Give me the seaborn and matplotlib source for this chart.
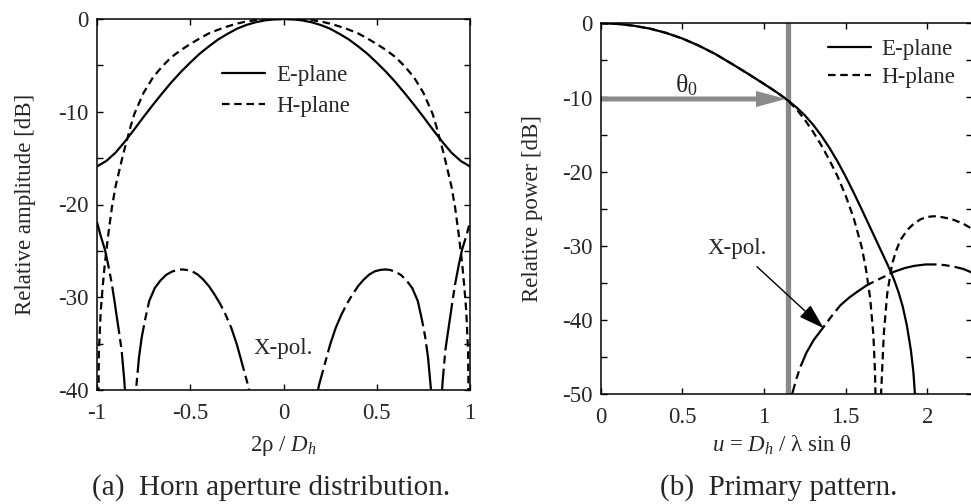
import numpy as np
import pandas as pd
import matplotlib
matplotlib.use("Agg")
import matplotlib.pyplot as plt
from matplotlib.lines import Line2D
import seaborn as sns

# ---------------- data: (a) horn aperture distribution ----------------
a_e_x = [-1.0, -0.95, -0.9, -0.85, -0.8, -0.75, -0.7, -0.65, -0.6, -0.55, -0.5, -0.45, -0.4, -0.35, -0.3,
         -0.25, -0.2, -0.15, -0.1, -0.05, 0.0, 0.05, 0.1, 0.15, 0.2, 0.25, 0.3, 0.35, 0.4, 0.45, 0.5,
         0.55, 0.6, 0.65, 0.7, 0.75, 0.8, 0.85, 0.9, 0.95, 1.0]
a_e_db = [-15.9, -15.3, -14.4, -13.2, -11.9, -10.55, -9.25, -8.0, -6.8, -5.7, -4.7, -3.75, -2.95, -2.2, -1.6,
          -1.05, -0.65, -0.35, -0.15, -0.04, 0.0, -0.04, -0.15, -0.35, -0.65, -1.05, -1.6, -2.2, -2.95, -3.75, -4.7,
          -5.7, -6.8, -8.0, -9.25, -10.55, -11.9, -13.2, -14.4, -15.3, -15.9]

a_h_x = [-1.0, -0.99, -0.98, -0.97, -0.96, -0.95, -0.94, -0.92, -0.9, -0.88, -0.86, -0.84, -0.82, -0.8,
         -0.75, -0.7, -0.65, -0.6, -0.55, -0.5, -0.45, -0.4, -0.35, -0.3, -0.25, -0.2, -0.15, -0.1, -0.05,
         0.0, 0.05, 0.1, 0.15, 0.2, 0.25, 0.3, 0.35, 0.4, 0.45, 0.5, 0.55, 0.6, 0.65, 0.7, 0.75,
         0.8, 0.82, 0.84, 0.86, 0.88, 0.9, 0.92, 0.94, 0.95, 0.96, 0.97, 0.98, 0.99, 1.0]
a_h_db = [-60.0, -36.0, -31.5, -29.0, -26.8, -25.0, -23.3, -20.3, -18.0, -16.3, -14.6, -13.1, -11.6, -10.25,
          -7.95, -6.3, -5.1, -4.1, -3.35, -2.7, -2.1, -1.55, -1.15, -0.8, -0.5, -0.27, -0.12, -0.05, -0.01,
          0.0, -0.01, -0.05, -0.12, -0.27, -0.5, -0.8, -1.15, -1.55, -2.1, -2.7, -3.35, -4.1, -5.1, -6.3, -7.95,
          -10.25, -11.6, -13.1, -14.6, -16.3, -18.0, -20.3, -23.3, -25.0, -26.8, -29.0, -31.5, -36.0, -60.0]

# cross-polar components (one list per lobe)
a_x1_x = [-1.0, -0.98, -0.957, -0.94, -0.921, -0.907, -0.894, -0.88, -0.868, -0.854, -0.845, -0.835]
a_x1_db = [-21.9, -23.4, -24.9, -26.5, -28.5, -30.3, -32.1, -34.0, -35.7, -38.9, -41.5, -50.0]
a_x2_x = [-0.83, -0.79, -0.775, -0.76, -0.743, -0.72, -0.69, -0.66, -0.63, -0.6, -0.57, -0.545, -0.52,
          -0.49, -0.46, -0.43, -0.4, -0.37, -0.34, -0.31, -0.28, -0.25, -0.22, -0.19, -0.16, -0.13]
a_x2_db = [-55.0, -39.8, -36.5, -34.3, -32.5, -30.4, -29.0, -28.2, -27.6, -27.25, -27.05, -27.0, -27.05,
           -27.2, -27.55, -28.1, -28.8, -29.7, -30.7, -31.9, -33.3, -35.1, -37.3, -39.5, -42.5, -50.0]
a_x3_x = [0.13, 0.16, 0.19, 0.22, 0.25, 0.28, 0.31, 0.34, 0.37, 0.4, 0.43, 0.46, 0.49, 0.52, 0.545,
          0.57, 0.6, 0.63, 0.66, 0.69, 0.72, 0.743, 0.76, 0.775, 0.79, 0.83]
a_x3_db = [-50.0, -42.5, -39.5, -37.3, -35.1, -33.3, -31.9, -30.7, -29.7, -28.8, -28.1, -27.55, -27.2,
           -27.05, -27.0, -27.05, -27.25, -27.6, -28.2, -29.0, -30.4, -32.5, -34.3, -36.5, -39.8, -55.0]
a_x4_x = [0.835, 0.845, 0.854, 0.868, 0.88, 0.894, 0.907, 0.921, 0.94, 0.957, 0.98, 1.0]
a_x4_db = [-50.0, -41.5, -38.9, -35.7, -34.0, -32.1, -30.3, -28.5, -26.5, -24.9, -23.4, -21.9]

# ---------------- data: (b) primary pattern ----------------
b_e_u = [0.0, 0.1, 0.2, 0.3, 0.4, 0.5, 0.6, 0.7, 0.8, 0.9, 1.0, 1.05, 1.1, 1.15, 1.2, 1.25, 1.3, 1.35,
         1.4, 1.45, 1.5, 1.55, 1.6, 1.65, 1.7, 1.725, 1.75, 1.775, 1.8, 1.825, 1.85, 1.875, 1.9, 1.915,
         1.925, 1.94]
b_e_db = [0.0, -0.08, -0.32, -0.71, -1.29, -2.05, -3.0, -4.12, -5.42, -6.77, -8.17, -8.89, -9.64, -10.45,
          -11.35, -12.4, -13.65, -15.1, -16.75, -18.6, -20.65, -22.85, -25.15, -27.5, -29.85, -31.03,
          -32.2, -33.4, -34.75, -36.3, -38.2, -40.7, -44.1, -47.0, -50.1, -58.0]
b_h_u = [0.0, 0.1, 0.2, 0.3, 0.4, 0.5, 0.6, 0.7, 0.8, 0.9, 1.0, 1.05, 1.1, 1.15, 1.2, 1.25, 1.3, 1.35,
         1.4, 1.45, 1.5, 1.55, 1.6, 1.625, 1.65, 1.67, 1.68, 1.69, 1.698, 1.706, 1.718, 1.734, 1.755,
         1.785, 1.81, 1.836, 1.88, 1.918, 1.96, 2.0, 2.04, 2.082, 2.12, 2.163, 2.22, 2.274]
b_h_db = [0.0, -0.08, -0.32, -0.71, -1.29, -2.05, -3.0, -4.12, -5.42, -6.77, -8.17, -8.89, -9.64, -10.5,
          -11.6, -13.0, -14.6, -16.4, -18.4, -20.6, -23.2, -26.3, -30.3, -33.2, -37.0, -42.0, -47.0,
          -58.0, -62.0, -58.0, -49.5, -41.8, -36.4, -32.4, -30.6, -29.2, -27.8, -27.0, -26.4, -26.1,
          -26.0, -26.1, -26.25, -26.5, -27.0, -27.7]
b_x_u = [1.16, 1.172, 1.2, 1.223, 1.26, 1.304, 1.366, 1.42, 1.468, 1.52, 1.57, 1.63, 1.693, 1.75,
         1.795, 1.86, 1.918, 1.99, 2.061, 2.11, 2.163, 2.22, 2.274]
b_x_db = [-55.0, -50.0, -47.8, -46.3, -44.4, -42.7, -40.9, -39.3, -38.0, -37.0, -36.2, -35.3, -34.6,
          -34.0, -33.5, -33.0, -32.7, -32.5, -32.5, -32.6, -32.8, -33.1, -33.6]

theta0_u = 1.145
theta0_db = -10.2

a_xticks = [-1, -0.5, 0, 0.5, 1]
a_xticklabels = ["-1", "-0.5", "0", "0.5", "1"]
a_yticks = [-40, -30, -20, -10, 0]
a_yticklabels = ["-40", "-30", "-20", "-10", "0"]
b_xticks = [0, 0.5, 1, 1.5, 2]
b_xticklabels = ["0", "0.5", "1", "1.5", "2"]
b_yticks = [-50, -40, -30, -20, -10, 0]
b_yticklabels = ["-50", "-40", "-30", "-20", "-10", "0"]

# ---------------- style ----------------
sns.set_style("ticks")
plt.rcParams["font.family"] = ["Liberation Serif", "DejaVu Serif"]
plt.rcParams["mathtext.fontset"] = "custom"
plt.rcParams["mathtext.rm"] = "Liberation Serif"
plt.rcParams["mathtext.it"] = "Liberation Serif:italic"
plt.rcParams["mathtext.bf"] = "Liberation Serif:bold"
plt.rcParams["axes.unicode_minus"] = False

FS = 16.5
LW = 1.6
DASH_H = (0, (3.4, 2.1))
DASH_X = (0, (21.6, 2.3, 3.6, 2.3))
GRAY = "#8a8a8a"

W, H = 971, 504
fig = plt.figure(figsize=(W / 100, H / 100), dpi=100)


def px_axes(l, r, t, b):
    return fig.add_axes([l / W, (H - b) / H, (r - l) / W, (b - t) / H])


axA = px_axes(97, 470, 19, 390)
axB = px_axes(600.7, 972, 23.3, 394.3)


def line(ax, x, y, ls):
    df = pd.DataFrame({"x": x, "y": y})
    sns.lineplot(data=df, x="x", y="y", ax=ax, color="black", lw=LW, linestyle=ls,
                 estimator=None, sort=False, legend=False)


# (a)
line(axA, a_e_x, a_e_db, "-")
line(axA, a_h_x, a_h_db, DASH_H)
for xs, ys in [(a_x1_x, a_x1_db), (a_x2_x, a_x2_db), (a_x3_x, a_x3_db), (a_x4_x, a_x4_db)]:
    line(axA, xs, ys, DASH_X)

# (b)
axB.axvline(theta0_u, color=GRAY, lw=3.8, zorder=1)
line(axB, b_e_u, b_e_db, "-")
line(axB, b_h_u, b_h_db, DASH_H)
line(axB, b_x_u, b_x_db, DASH_X)
axB.annotate("", xy=(theta0_u - 0.01, theta0_db), xytext=(0.0, theta0_db),
             arrowprops=dict(arrowstyle="simple,head_length=1.08,head_width=0.58,tail_width=0.18",
                             mutation_scale=20, color=GRAY, lw=0, shrinkA=0, shrinkB=0), zorder=2)
axB.text(0.522, -8.3, r"$\mathrm{\theta}_0$", fontsize=18.5, ha="center", va="center")
axB.text(0.833, -30.3, "X-pol.", fontsize=FS, ha="center", va="center")
axB.annotate("", xy=(1.366, -41.1), xytext=(0.957, -32.8),
             arrowprops=dict(arrowstyle="-|>,head_length=0.8,head_width=0.25", mutation_scale=20,
                             color="black", lw=1.0, shrinkA=0, shrinkB=0))
axA.text(0.0, -35.5, "X-pol.", fontsize=FS, ha="center", va="center")

# axes cosmetics
for ax, xl, yl, xt, xtl, yt, ytl in [
    (axA, (-1, 1), (-40, 0), a_xticks, a_xticklabels, a_yticks, a_yticklabels),
    (axB, (0, 2.274), (-50, 0), b_xticks, b_xticklabels, b_yticks, b_yticklabels),
]:
    ax.set_xlim(*xl)
    ax.set_ylim(*yl)
    ax.set_xticks(xt)
    ax.set_xticklabels(xtl)
    ax.set_yticks(yt)
    ax.set_yticklabels(ytl)
    ax.set_yticks(np.arange(yl[0] + 5, 0, 10), minor=True)
    ax.tick_params(which="both", direction="in", top=True, right=True, labelsize=FS,
                   width=1.0, color="black", length=4)
    ax.tick_params(axis="y", which="both", pad=6)
    ax.tick_params(axis="x", which="both", pad=9.5)
    for s in ax.spines.values():
        s.set_visible(True)
        s.set_linewidth(1.1)
        s.set_color("black")

axA.set_xlabel(r"2ρ / $D_h$", fontsize=FS)
axA.set_ylabel("Relative amplitude [dB]", fontsize=FS)
axB.set_xlabel(r"$u$ = $D_h$ / λ sin θ", fontsize=FS)
axB.set_ylabel("Relative power [dB]", fontsize=FS)
axA.xaxis.set_label_coords(0.5, -0.118)
axB.xaxis.set_label_coords((782 - 600.7) / 371.3, -0.107)
axA.yaxis.set_label_coords(-0.1635, 0.5)
axB.yaxis.set_label_coords(-0.155, 0.5)

# legends
h_e = Line2D([], [], color="black", lw=LW, linestyle="-")
h_h = Line2D([], [], color="black", lw=LW, linestyle=DASH_H)
for ax, xf, yf, sp in [(axA, 0.335, 0.806, 0.4), (axB, 0.612, 0.891, 0.3)]:
    ax.legend([h_e, h_h], ["E-plane", "H-plane"], loc="center left", bbox_to_anchor=(xf, yf),
              frameon=False, fontsize=FS, handlelength=1.9, handletextpad=0.45,
              labelspacing=sp, borderpad=0, borderaxespad=0)

fig.text(271.5 / W, 1 - 488 / H, "(a)  Horn aperture distribution.", fontsize=21,
         ha="center", va="center")
fig.text(779 / W, 1 - 488 / H, "(b)  Primary pattern.", fontsize=21, ha="center", va="center")

fig.savefig("out.png", dpi=100, facecolor="white")
